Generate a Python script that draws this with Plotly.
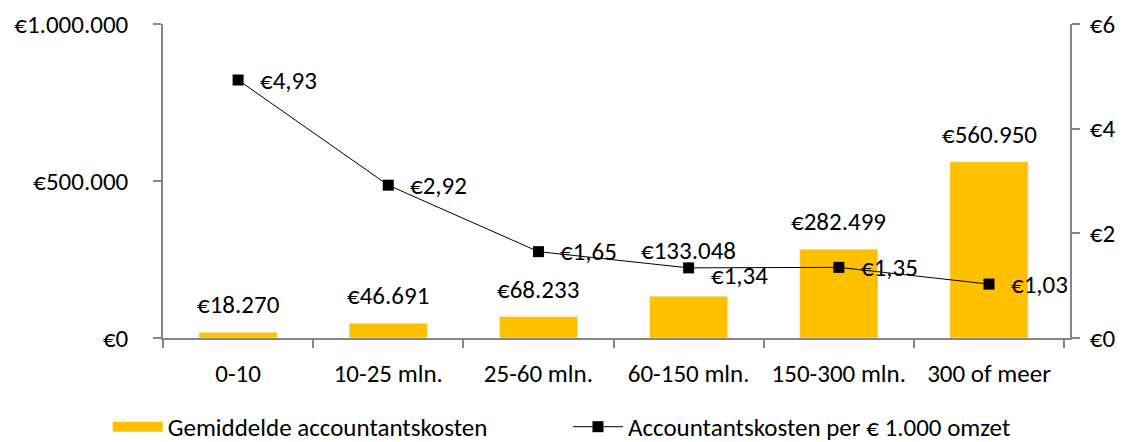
import plotly.graph_objects as go

categories = ["0-10", "10-25 mln.", "25-60 mln.", "60-150 mln.", "150-300 mln.", "300 of meer"]
avg_costs = [18270, 46691, 68233, 133048, 282499, 560950]
cost_per_1000 = [4.93, 2.92, 1.65, 1.34, 1.35, 1.03]
left_ticks = [0, 500000, 1000000]
left_ticktext = ["€0", "€500.000", "€1.000.000"]
right_ticks = [0, 2, 4, 6]
right_ticktext = ["€0", "€2", "€4", "€6"]
bar_name = "Gemiddelde accountantskosten"
line_name = "Accountantskosten per € 1.000 omzet"

def eur_int(v):
    return "€" + f"{v:,}".replace(",", ".")

def eur_dec(v):
    return "€" + f"{v:.2f}".replace(".", ",")

FONT = "Calibri, Carlito, Lato, sans-serif"
FS = 25
AXIS = "#868686"
BAR = "#FFC000"

fig = go.Figure()
fig.add_trace(go.Bar(
    x=categories, y=avg_costs, name=bar_name, showlegend=False,
    marker=dict(color=BAR), width=0.52,
))
# legend-only entry giving the bar series a wide swatch
fig.add_trace(go.Scatter(
    x=[None], y=[None], name=bar_name, mode="lines",
    line=dict(color=BAR, width=16), legend="legend",
))
fig.add_trace(go.Scatter(
    x=categories, y=cost_per_1000, name=line_name,
    mode="lines+markers", yaxis="y2", legend="legend2",
    line=dict(color="black", width=1),
    marker=dict(symbol="square", size=11, color="black"),
    cliponaxis=False,
))

# bar value labels (label above 60-150 lifted to clear the line)
bar_label_shift = [10, 10, 10, 28, 10, 10]
for c, v, ys in zip(categories, avg_costs, bar_label_shift):
    fig.add_annotation(x=c, y=v, xref="x", yref="y", text=eur_int(v),
                       showarrow=False, yanchor="bottom", yshift=ys,
                       font=dict(size=FS, color="black"))

# line value labels
line_label_shift = [0, 0, 0, -8, 0, 0]
for c, v, ys in zip(categories, cost_per_1000, line_label_shift):
    fig.add_annotation(x=c, y=v, xref="x", yref="y2", text=eur_dec(v),
                       showarrow=False, xanchor="left", xshift=20, yshift=ys,
                       font=dict(size=FS, color="black"))

legend_common = dict(orientation="h", xanchor="left", y=-0.21, yanchor="top",
                     font=dict(size=FS), itemwidth=50, bgcolor="rgba(0,0,0,0)")

fig.update_layout(
    width=1120, height=434,
    margin=dict(l=155, r=58, t=16, b=104, autoexpand=False),
    paper_bgcolor="white", plot_bgcolor="white",
    font=dict(family=FONT, size=FS, color="black"),
    showlegend=True,
    legend=dict(x=-0.061, **legend_common),
    legend2=dict(x=0.4465, **legend_common),
    xaxis=dict(
        showline=True, linecolor=AXIS, linewidth=1.5,
        ticks="outside", ticklen=8, tickcolor=AXIS, tickwidth=1.5,
        tickson="boundaries", showgrid=False, tickfont=dict(size=FS),
        ticklabelstandoff=12, automargin=False,
    ),
    yaxis=dict(
        range=[0, 1000000], tickvals=left_ticks, ticktext=left_ticktext,
        showline=True, linecolor=AXIS, linewidth=1.5,
        ticks="outside", ticklen=8, tickcolor=AXIS, tickwidth=1.5,
        showgrid=False, zeroline=False, tickfont=dict(size=FS),
        ticklabelstandoff=20, automargin=False,
    ),
    yaxis2=dict(
        range=[0, 6], tickvals=right_ticks, ticktext=right_ticktext,
        overlaying="y", side="right",
        showline=True, linecolor=AXIS, linewidth=1.5,
        ticks="outside", ticklen=8, tickcolor=AXIS, tickwidth=1.5,
        showgrid=False, zeroline=False, tickfont=dict(size=FS),
        ticklabelstandoff=5, automargin=False,
    ),
)

fig.write_html("out.html")
